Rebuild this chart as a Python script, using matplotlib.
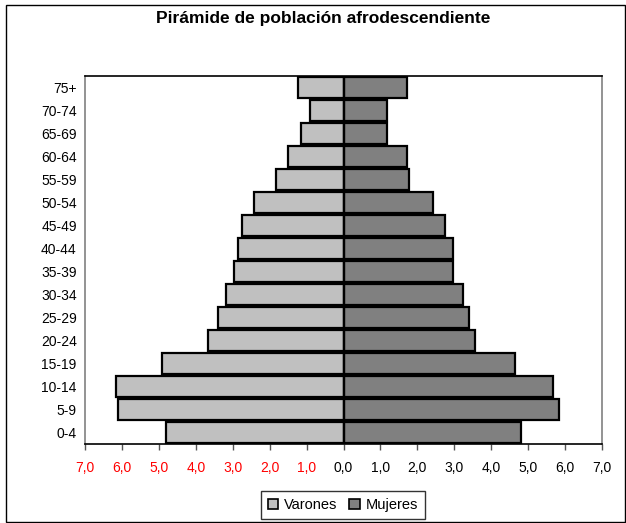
import matplotlib
matplotlib.use("Agg")
import matplotlib.pyplot as plt
from matplotlib.patches import Rectangle

plt.rcParams['font.family'] = ['Liberation Sans', 'DejaVu Sans']

categories = ["0-4", "5-9", "10-14", "15-19", "20-24", "25-29", "30-34", "35-39",
              "40-44", "45-49", "50-54", "55-59", "60-64", "65-69", "70-74", "75+"]
varones = [4.81, 6.11, 6.16, 4.92, 3.68, 3.41, 3.19, 2.97,
           2.86, 2.75, 2.43, 1.84, 1.50, 1.14, 0.92, 1.23]
mujeres = [4.81, 5.84, 5.68, 4.65, 3.57, 3.41, 3.24, 2.97,
           2.97, 2.76, 2.43, 1.78, 1.73, 1.19, 1.19, 1.73]
xticks = [-7, -6, -5, -4, -3, -2, -1, 0, 1, 2, 3, 4, 5, 6, 7]
title = "Pirámide de población afrodescendiente"

W, H = 626, 523
fig = plt.figure(figsize=(W / 100, H / 100), dpi=100)

# outer chart border
fig.patches.append(Rectangle((6 / W, 1 - 522 / H), 619 / W, 517 / H,
                             transform=fig.transFigure, fill=False,
                             edgecolor='black', linewidth=1.0))

left, right, top, bottom = 85, 602, 76, 444
ax = fig.add_axes([left / W, 1 - bottom / H, (right - left) / W, (bottom - top) / H])

y = list(range(len(categories)))
h = 0.88
ax.barh(y, [-v for v in varones], height=h, color='#C0C0C0',
        edgecolor='black', linewidth=1.6, label='Varones')
ax.barh(y, mujeres, height=h, color='#808080',
        edgecolor='black', linewidth=1.6, label='Mujeres')
ax.axvline(0, color='black', linewidth=1.6, zorder=3)

ax.set_xlim(-7, 7)
ax.set_ylim(-0.5, len(categories) - 0.5)
ax.set_xticks(xticks)
ax.set_xticklabels([f"{abs(t):.1f}".replace('.', ',') for t in xticks], fontsize=10)
for lbl, t in zip(ax.get_xticklabels(), xticks):
    lbl.set_color('#FF0000' if t < 0 else 'black')
ax.set_yticks(y)
ax.set_yticklabels(categories, fontsize=10)
ax.tick_params(axis='y', length=0, pad=6)
ax.tick_params(axis='x', length=4, width=1, direction='out', pad=8, color='#555555')

ax.spines['left'].set_color('#808080')
ax.spines['right'].set_color('#808080')
ax.spines['top'].set_color('black')
ax.spines['bottom'].set_color('black')
for s in ax.spines.values():
    s.set_linewidth(1.2)

fig.text(323 / W, 1 - 19 / H, title, ha='center', va='center',
         fontsize=12.5, fontweight='bold')

leg = fig.legend(loc='center', bbox_to_anchor=(343 / W, 1 - 505 / H), ncol=2,
                 fontsize=10.5, frameon=True, fancybox=False, edgecolor='black',
                 handlelength=0.7, handleheight=0.7, handletextpad=0.4,
                 columnspacing=0.8, borderpad=0.5)
leg.get_frame().set_linewidth(1.0)
for hnd in leg.legend_handles:
    hnd.set_linewidth(1.2)

fig.savefig("out.png", dpi=100)
